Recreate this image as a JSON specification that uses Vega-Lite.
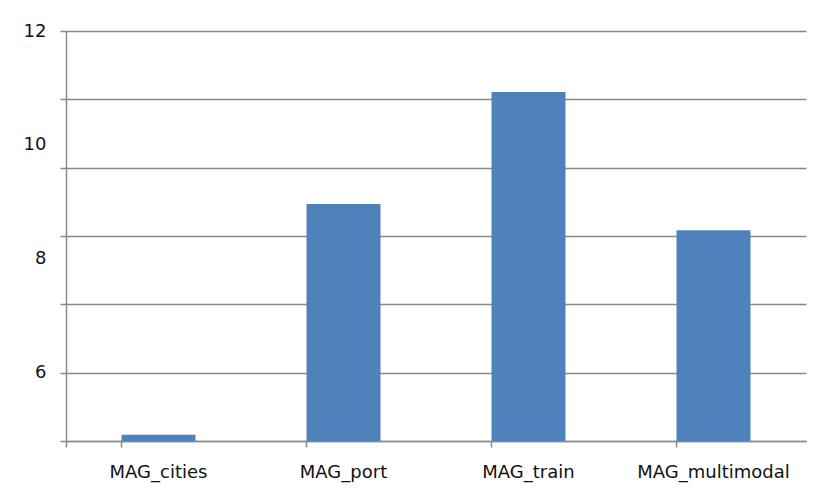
{
  "$schema": "https://vega.github.io/schema/vega-lite/v6.json",
  "width": 740,
  "height": 410,
  "autosize": {"type": "none"},
  "padding": {"left": 66, "top": 31, "right": 14, "bottom": 56},
  "background": "white",
  "config": {"view": {"stroke": null}, "font": "DejaVu Sans"},
  "data": {
    "values": [
      {"category": "MAG_cities", "value": 4.91},
      {"category": "MAG_port", "value": 8.96},
      {"category": "MAG_train", "value": 10.93},
      {"category": "MAG_multimodal", "value": 8.5}
    ]
  },
  "layer": [
    {
      "mark": {"type": "bar", "color": "#4F81BD", "clip": true},
      "encoding": {
        "x": {
          "field": "category", "type": "nominal", "sort": null,
          "scale": {"paddingInner": 0.6, "paddingOuter": 0.3},
          "axis": {
            "title": null, "labelAngle": 0, "bandPosition": 0, "tickExtra": true,
            "domainColor": "#8a8a8a", "domainWidth": 1.5, "tickColor": "#8a8a8a", "tickWidth": 1.5, "tickSize": 6,
            "labelFont": "DejaVu Sans", "labelFontSize": 18, "labelFontWeight": 500, "labelColor": "#111111", "labelPadding": 16
          }
        },
        "y": {
          "field": "value", "type": "quantitative",
          "scale": {"domain": [4.8, 12], "nice": false, "zero": false},
          "axis": {
            "orient": "left", "title": null, "labels": false,
            "values": [4.8, 6, 7.2, 8.4, 9.6, 10.8, 12],
            "grid": true, "gridColor": "#8a8a8a", "gridWidth": 1.5, "gridOpacity": 1,
            "domainColor": "#8a8a8a", "domainWidth": 1.5, "tickColor": "#8a8a8a", "tickWidth": 1.5, "tickSize": 6
          }
        }
      }
    },
    {
      "mark": {"type": "bar", "opacity": 0, "clip": true},
      "encoding": {
        "x": {
          "field": "category", "type": "nominal", "sort": null,
          "scale": {"paddingInner": 0.6, "paddingOuter": 0.3},
          "axis": {
            "title": null, "labelAngle": 0, "bandPosition": 0, "tickExtra": true,
            "domainColor": "#8a8a8a", "domainWidth": 1.5, "tickColor": "#8a8a8a", "tickWidth": 1.5, "tickSize": 6,
            "labelFont": "DejaVu Sans", "labelFontSize": 18, "labelFontWeight": 500, "labelColor": "#111111", "labelPadding": 16
          }
        },
        "y": {
          "field": "value", "type": "quantitative",
          "scale": {"domain": [4.8, 12], "nice": false, "zero": false},
          "axis": {
            "orient": "left", "title": null, "values": [6, 8, 10, 12],
            "grid": false, "ticks": false, "domain": false,
            "labelFont": "DejaVu Sans", "labelFontSize": 18, "labelFontWeight": 500, "labelColor": "#111111", "labelPadding": 20
          }
        }
      }
    }
  ],
  "resolve": {"axis": {"y": "independent"}}
}
